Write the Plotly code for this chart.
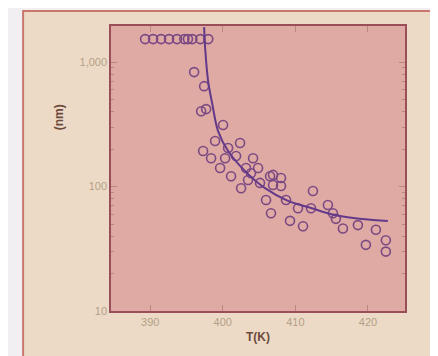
import plotly.graph_objects as go

# Scatter data: temperature (K) and size (nm)
temp_k = [389.3, 390.4, 391.5, 392.6, 393.7, 394.7, 395.2, 395.8, 396.9, 398.0,
          396.05, 397.43, 397.02, 397.70, 400.04, 398.94, 397.29, 398.39, 399.63, 400.73,
          402.38, 401.83, 404.17, 401.14, 402.52, 403.89, 405.13, 406.51, 405.96, 403.20,
          406.92, 408.02, 406.92, 408.02, 406.64, 409.26, 411.05, 412.42, 408.71, 410.36,
          412.15, 414.48, 415.17, 416.55, 418.61, 421.09, 419.71, 422.46, 422.46, 415.58,
          400.32, 403.48, 404.86]
size_nm = [1530, 1530, 1530, 1530, 1530, 1530, 1530, 1530, 1530, 1530,
           831, 641, 403, 419, 312, 232, 193, 169, 141, 204,
           224, 176, 169, 121, 97, 128, 107, 121, 78, 141,
           124, 117, 103, 101, 61, 53, 48, 92, 78, 67,
           67, 71, 61, 46, 49, 45, 34, 37, 30, 55,
           169, 113, 141]

# Fitted curve, points
curve_t = [397.43, 397.57, 397.98, 398.53, 399.35, 400.73, 403.07, 405.82, 408.98,
           411.73, 415.45, 419.30, 422.74]
curve_nm = [1910, 1296, 703, 469, 279, 193, 133, 97, 76.6, 68.4, 59, 54.8, 52.9]

x_ticks = [390, 400, 410, 420]
y_ticks = [10, 100, 1000]
y_ticklabels = ["10", "100", "1,000"]
y_minor_ticks = [20, 30, 40, 50, 60, 70, 80, 90,
                 200, 300, 400, 500, 600, 700, 800, 900]

fig = go.Figure()
fig.add_trace(go.Scatter(
    x=temp_k, y=size_nm, mode="markers",
    marker=dict(symbol="circle-open", size=9, color="#7b4a82", line=dict(width=1.6)),
    showlegend=False, cliponaxis=False))
fig.add_trace(go.Scatter(
    x=curve_t, y=curve_nm, mode="lines", line_shape="spline",
    line=dict(color="#633a8a", width=2), showlegend=False))

tick_font = dict(family="Liberation Sans, Arial, sans-serif", size=11, color="#b59f86")
axis_color = "#9a4f58"

fig.update_xaxes(
    range=[384.6, 425.1], tickvals=x_ticks, ticks="inside", ticklen=6,
    tickcolor="#b58a7a", showline=True, linecolor=axis_color, linewidth=1.5,
    mirror="ticks", showgrid=False, zeroline=False, tickfont=tick_font,
    title=dict(text="<b>T(K)</b>", font=dict(family="Liberation Sans, Arial, sans-serif",
                                             size=12, color="#6e4a3c"), standoff=6))
fig.update_yaxes(
    type="log", range=[1, 3.29], tickvals=y_ticks, ticktext=y_ticklabels,
    ticks="inside", ticklen=6, tickcolor="#b58a7a",
    minor=dict(tickmode="array", tickvals=y_minor_ticks, ticks="inside", ticklen=3,
               tickcolor="#b58a7a", showgrid=False),
    showline=True, linecolor=axis_color, linewidth=1.5, mirror="ticks",
    showgrid=False, zeroline=False, tickfont=tick_font)

fig.add_annotation(
    text="<b>(nm)</b>", xref="paper", yref="paper", x=-0.207, y=0.733,
    textangle=-90, showarrow=False,
    font=dict(family="Liberation Sans, Arial, sans-serif", size=12, color="#6e4a3c"))

# outer beige panel with reddish frame
fig.add_shape(type="rect", xref="paper", yref="paper",
              x0=-0.299, x1=1.105, y0=-0.168, y1=1.0526,
              fillcolor="#ecdac6", line=dict(color="#c9766e", width=2), layer="below")
# pink plotting area
fig.add_shape(type="rect", xref="paper", yref="paper",
              x0=0, x1=1, y0=0, y1=1,
              fillcolor="#dfa9a4", line=dict(width=0), layer="below")

fig.update_layout(
    width=438, height=356,
    margin=dict(l=103, r=41, t=18, b=53),
    paper_bgcolor="#f2eff2", plot_bgcolor="rgba(0,0,0,0)",
)

fig.write_html("out.html")
